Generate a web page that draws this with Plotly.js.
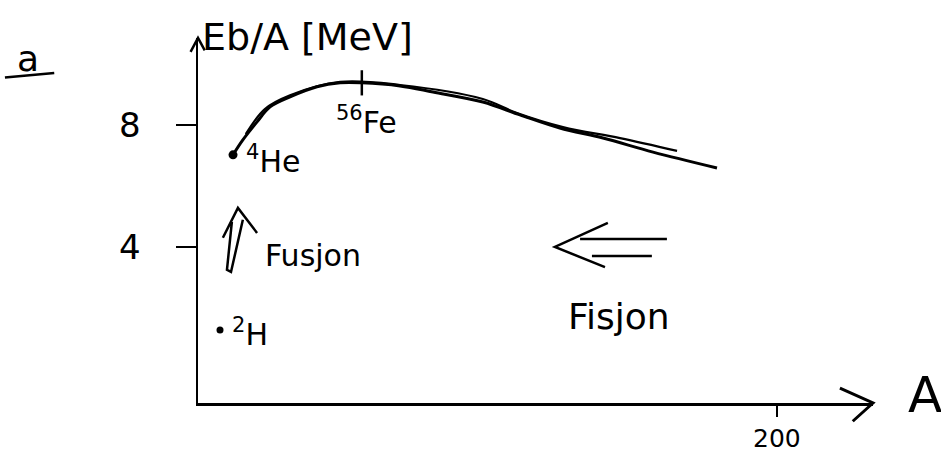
<!DOCTYPE html>
<html>
<head>
<meta charset="utf-8">
<script src="https://cdn.plot.ly/plotly-3.0.1.min.js"></script>
<style>
  html, body { margin: 0; padding: 0; background: #ffffff; }
  #chart { width: 941px; height: 457px; }
</style>
</head>
<body>
<div id="chart"></div>
<script>
// Binding energy per nucleon, Eb/A [MeV], against mass number A (sketch)
const curveA      = [12.1, 15.5, 20.4, 24.9, 31.8, 41.1, 49.1, 56.6, 69.8, 81.2, 98.4, 111.2, 125.0, 139.9, 157.2, 179.3];
const curveEb     = [7.02, 7.51, 8.10, 8.59, 8.92, 9.25, 9.38, 9.38, 9.28, 9.08, 8.75, 8.33, 7.90, 7.57, 7.11, 6.59];

// second pen stroke traced over the same curve
const strokeA     = [16.5, 23.1, 31.8, 49.1, 69.8, 98.4, 110.2, 126.1, 145.8, 165.5];
const strokeEb    = [7.70, 8.52, 8.97, 9.41, 9.31, 8.85, 8.39, 7.93, 7.57, 7.15];

// marked nuclides
const heA = [12.1], heEb = [7.02];
const hA  = [7.6],  hEb  = [1.28];
const feA = [56.6], feEb = [9.38];

const yTicks = [4, 8];
const yTickText = ['4', '8'];
const xTicks = [200];
const xTickText = ['200'];

const xRange = [0, 233.2];
const yRange = [-1.115, 10.85];

const ink = '#000000';
const pen = 'DejaVu Sans, sans-serif';

const traces = [
  { x: curveA, y: curveEb, mode: 'lines', line: { color: ink, width: 3, shape: 'spline', smoothing: 1.0 }, hoverinfo: 'skip' },
  { x: strokeA, y: strokeEb, mode: 'lines', line: { color: ink, width: 2.2, shape: 'spline', smoothing: 1.0 }, hoverinfo: 'skip' },
  { x: heA, y: heEb, mode: 'markers', marker: { color: ink, size: 9 }, hoverinfo: 'skip' },
  { x: hA, y: hEb, mode: 'markers', marker: { color: ink, size: 7 }, hoverinfo: 'skip' },
  { x: feA, y: feEb, mode: 'markers', marker: { symbol: 'line-ns', size: 18, line: { color: ink, width: 2.5 } }, hoverinfo: 'skip' }
];

const label = (text, x, y, size) => ({
  text: text, x: x, y: y, xref: 'x', yref: 'y', showarrow: false,
  xanchor: 'left', yanchor: 'middle',
  font: { family: pen, size: size, color: ink }
});

const annotations = [
  // axis names
  { text: 'Eb/A [MeV]', x: 0.003, y: 1.003, xref: 'paper', yref: 'paper', showarrow: false,
    xanchor: 'left', yanchor: 'middle', font: { family: pen, size: 38, color: ink } },
  { text: 'A', x: 1.077, y: 0.022, xref: 'paper', yref: 'paper', showarrow: false,
    xanchor: 'center', yanchor: 'middle', font: { family: pen, size: 50, color: ink } },
  { text: 'a', x: -0.252, y: 0.945, xref: 'paper', yref: 'paper', showarrow: false,
    xanchor: 'center', yanchor: 'middle', font: { family: pen, size: 36, color: ink } },
  // nuclide labels
  label('<sup>4</sup>He', 16.0, 6.87, 30),
  label('<sup>56</sup>Fe', 47.0, 8.15, 30),
  label('<sup>2</sup>H', 11.0, 1.18, 30),
  // process labels
  label('Fusjon', 22.5, 3.72, 30),
  label('Fisjon', 127.0, 1.72, 36)
];

const shapes = [
  // arrowheads on the two axes
  { type: 'path', xref: 'paper', yref: 'paper',
    path: 'M 0.951,0.041 L 1.0,0.0 L 0.970,-0.050', line: { color: ink, width: 3 } },
  { type: 'path', xref: 'paper', yref: 'paper',
    path: 'M -0.0110,0.962 L 0.0,1.0 L 0.0100,0.966', line: { color: ink, width: 2.5 } },
  // underline of the panel letter
  { type: 'line', xref: 'paper', yref: 'paper', x0: -0.286, y0: 0.892, x1: -0.213, y1: 0.904,
    line: { color: ink, width: 2.5 } },
  // hollow arrow pointing up: fusion
  { type: 'path', xref: 'x', yref: 'y',
    path: 'M 8.6,4.30 L 13.8,5.28 L 20.4,4.46 M 11.7,4.82 L 10.0,3.25 L 11.4,3.18 L 15.5,4.89',
    line: { color: ink, width: 2.5 } },
  // double arrow pointing left: fission
  { type: 'path', xref: 'x', yref: 'y',
    path: 'M 141.6,4.79 L 123.3,4.00 L 140.6,3.34 M 132.0,4.26 L 162.0,4.26 M 136.1,3.70 L 156.8,3.70',
    line: { color: ink, width: 2.5 } }
];

const layout = {
  width: 941, height: 457,
  margin: { l: 198, r: 68, t: 38, b: 54, pad: 0 },
  paper_bgcolor: '#ffffff', plot_bgcolor: '#ffffff',
  showlegend: false,
  font: { family: pen, color: ink },
  xaxis: {
    range: xRange, showgrid: false, zeroline: false,
    showline: true, linecolor: ink, linewidth: 2.5,
    ticks: 'outside', ticklen: 11, tickwidth: 2.5, tickcolor: ink,
    tickvals: xTicks, ticktext: xTickText, ticklabelstandoff: 0,
    tickfont: { family: pen, size: 25, color: ink }
  },
  yaxis: {
    range: yRange, showgrid: false, zeroline: false,
    showline: true, linecolor: ink, linewidth: 2.5,
    ticks: 'outside', ticklen: 20, tickwidth: 2.5, tickcolor: ink,
    tickvals: yTicks, ticktext: yTickText, ticklabelstandoff: 28,
    tickfont: { family: pen, size: 34, color: ink }
  },
  annotations: annotations,
  shapes: shapes
};

Plotly.newPlot('chart', traces, layout, { staticPlot: true, displayModeBar: false });
</script>
</body>
</html>
